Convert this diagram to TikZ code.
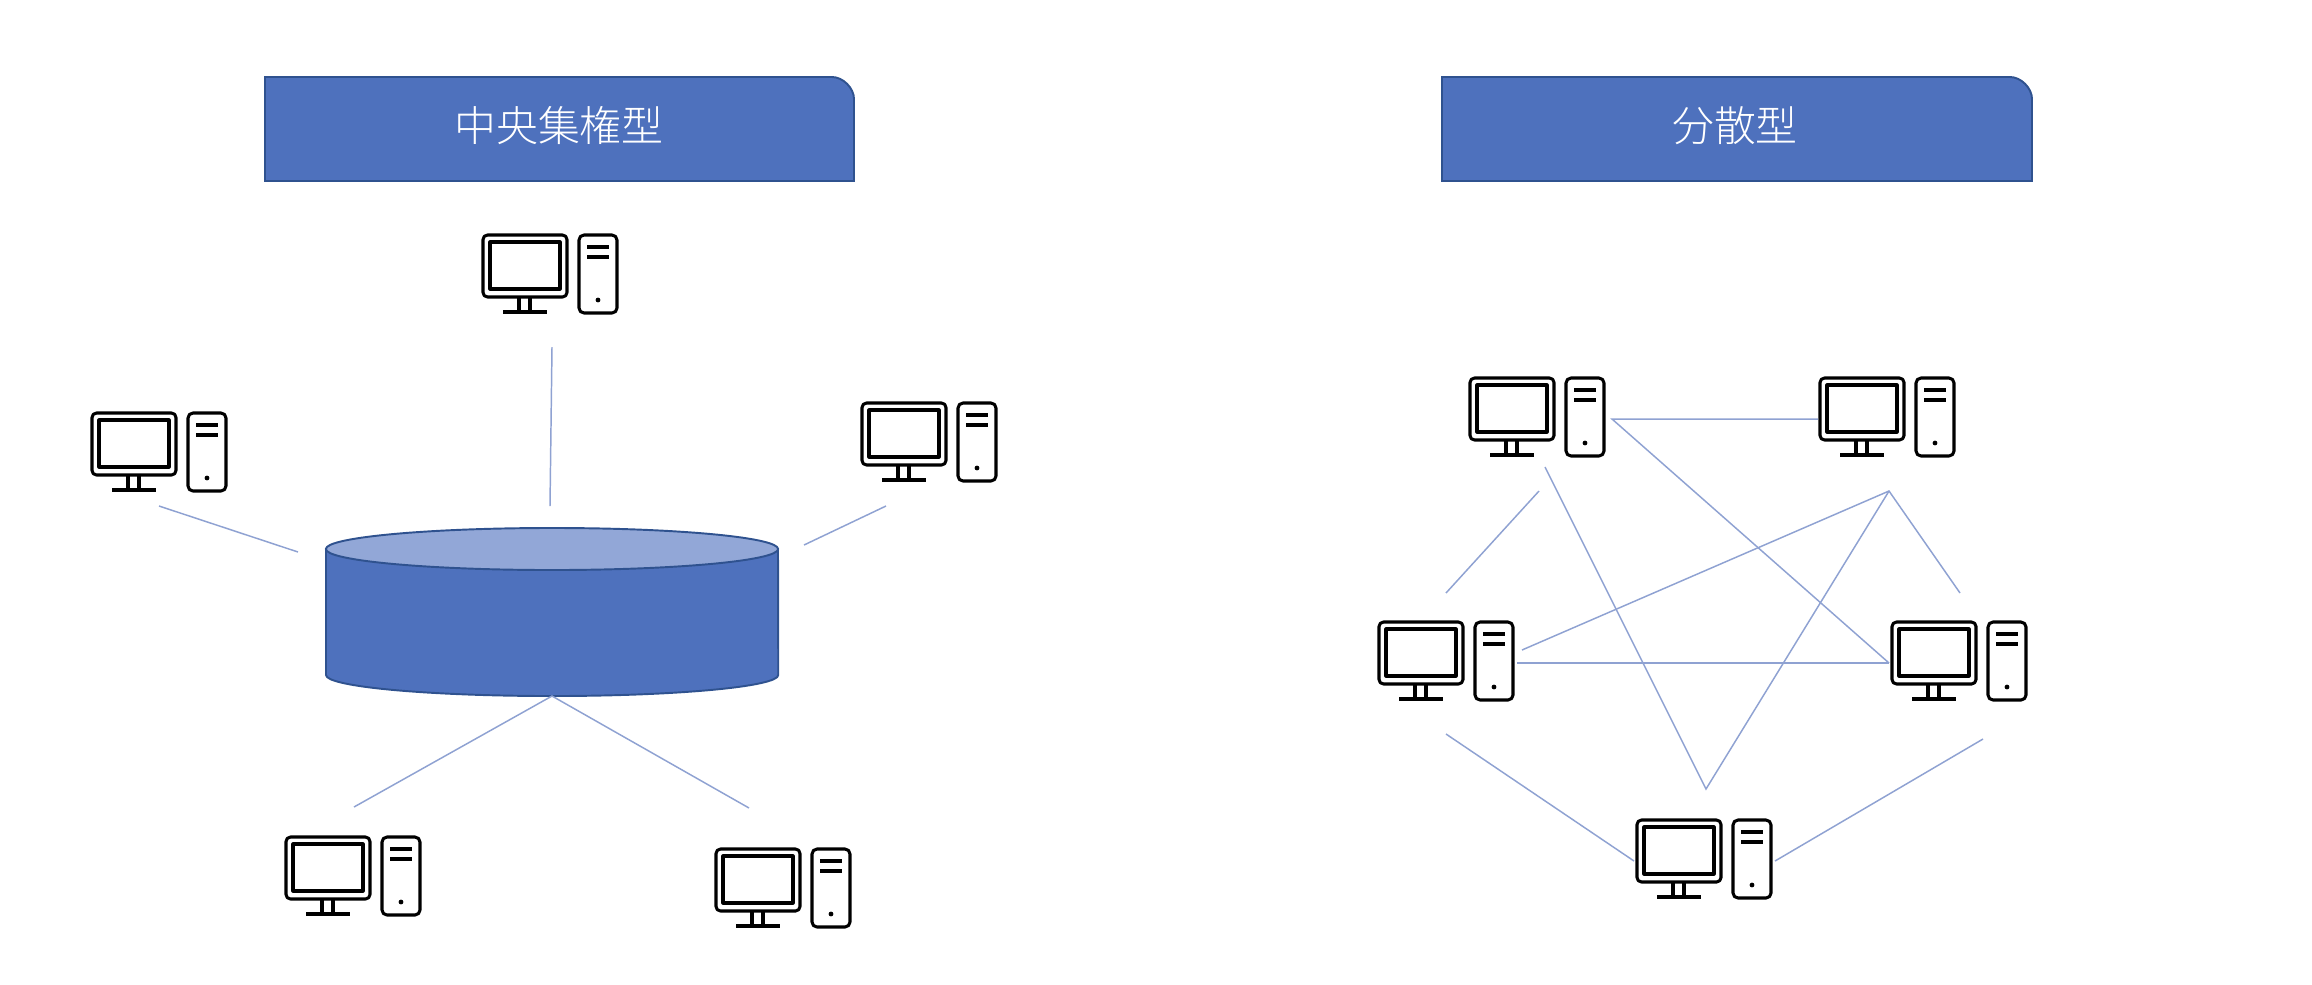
\documentclass[tikz,border=0pt]{standalone}
\usepackage{fontspec}
\newfontfamily\cjk[UprightFont=* Light]{Noto Sans CJK JP}
\definecolor{bluefill}{HTML}{4E71BD}
\definecolor{blueedge}{HTML}{2F528F}
\definecolor{bluetop}{HTML}{92A7D7}
\definecolor{linkblue}{HTML}{8FA2D2}
\tikzset{
  x=0.01cm,y=-0.01cm,
  banner/.style={fill=bluefill,draw=blueedge,line width=0.55pt},
  bannertext/.style={text=white,font=\cjk\fontsize{11.9pt}{14pt}\selectfont,inner sep=0pt},
  link/.style={draw=linkblue,line width=0.42pt},
  icon/.style={line width=0.87pt,draw=black,line join=round},
  drum/.style={fill=bluefill,draw=blueedge,line width=0.55pt},
  pc/.pic={
    \draw[icon,rounded corners=0.045cm] (0,0) rectangle (84,62);
    \draw[icon] (7,7) rectangle (77,54);
    \draw[icon] (36,62) -- (36,77) (47,62) -- (47,77);
    \draw[icon] (20,77) -- (64,77);
    \draw[icon,rounded corners=0.05cm] (96,0) rectangle (134,78);
    \draw[icon] (104,12) -- (126,12) (104,22) -- (126,22);
    \fill[black] (115,65) circle [radius=0.024cm];
  }
}
\begin{document}
\begin{tikzpicture}
\useasboundingbox (0,0) rectangle (2312,984);
% banners
\draw[banner] (265,77) -- (832,77) to[out=0,in=90,looseness=0.9] (854,99) -- (854,181) -- (265,181) -- cycle;
\node[bannertext] (t1) at (559,126) {中央集権型};
\draw[banner] (1442,77) -- (2010,77) to[out=0,in=90,looseness=0.9] (2032,99) -- (2032,181) -- (1442,181) -- cycle;
\node[bannertext] (t2) at (1735,126) {分散型};
% drum
\draw[drum] (326,549) -- (326,675) arc[start angle=180,end angle=360,x radius=2.26cm,y radius=0.21cm] -- (778,549) -- cycle;
\draw[drum,fill=bluetop] (552,549) ellipse [x radius=2.26cm,y radius=0.21cm];
% computers
\pic (pa) at (483,235) {pc};
\pic (pb) at (92,413) {pc};
\pic (pc) at (862,403) {pc};
\pic (pd) at (286,837) {pc};
\pic (pe) at (716,849) {pc};
\pic (qa) at (1470,378) {pc};
\pic (qb) at (1820,378) {pc};
\pic (qc) at (1379,622) {pc};
\pic (qd) at (1892,622) {pc};
\pic (qe) at (1637,820) {pc};
% free ends
\coordinate (a1) at (552,347); \coordinate (a2) at (550,506);
\coordinate (b1) at (159,506); \coordinate (b2) at (298,552);
\coordinate (c1) at (886,506); \coordinate (c2) at (804,545);
\coordinate (d0) at (552,696); \coordinate (d1) at (354,807); \coordinate (d2) at (749,808);
\coordinate (e1) at (1612,419); \coordinate (e2) at (1818,419); \coordinate (e3) at (1889,663);
\coordinate (f1) at (1539,491); \coordinate (f2) at (1446,593);
\coordinate (g1) at (1545,467); \coordinate (g2) at (1706,789); \coordinate (g3) at (1889,491);
\coordinate (h1) at (1522,650); \coordinate (h2) at (1960,593);
\coordinate (i1) at (1517,663);
\coordinate (j1) at (1446,734); \coordinate (j2) at (1634,861);
\coordinate (k1) at (1775,861); \coordinate (k2) at (1983,739);
% links
\draw[link] (a1) -- (a2);
\draw[link] (b1) -- (b2);
\draw[link] (c1) -- (c2);
\draw[link] (d1) -- (d0) -- (d2);
\draw[link] (e2) -- (e1) -- (e3);
\draw[link] (f1) -- (f2);
\draw[link] (g1) -- (g2) -- (g3);
\draw[link] (h1) -- (g3) -- (h2);
\draw[link] (i1) -- (e3);
\draw[link] (j1) -- (j2);
\draw[link] (k1) -- (k2);
\end{tikzpicture}
\end{document}
